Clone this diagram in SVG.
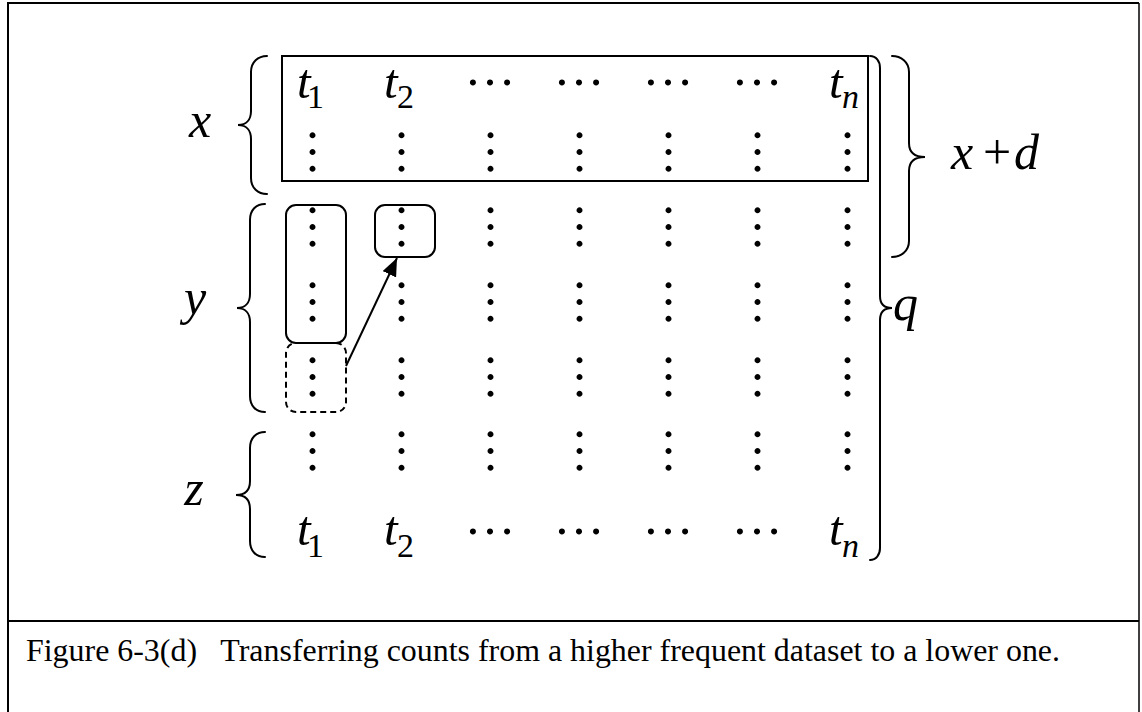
<svg xmlns="http://www.w3.org/2000/svg" width="1142" height="712" viewBox="0 0 1142 712">
  <style>
    .frame { fill: none; stroke: #000; stroke-width: 2; }
    .box { fill: none; stroke: #000; stroke-width: 2; }
    .brace { fill: none; stroke: #000; stroke-width: 2; stroke-linecap: round; }
    .dash { fill: none; stroke: #000; stroke-width: 2; stroke-dasharray: 6 4; }
    .var { font-family: "Liberation Serif", "Times New Roman", serif; font-style: italic; font-size: 50px; fill: #000; }
    .t { font-size: 49px; }
    .sub { font-size: 34px; }
    .up { font-style: normal; }
    .dots { font-family: "Liberation Serif", "Times New Roman", serif; font-size: 50px; text-anchor: middle; fill: #000; }
    .hdots { font-size: 51px; }
    .caption { font-family: "Liberation Serif", "Times New Roman", serif; font-size: 32px; fill: #000; white-space: pre; }
  </style>
  <defs>
    <!-- vertical ellipsis: a rotated horizontal ellipsis, centred on the middle dot -->
    <text id="vdots" class="dots" x="0" y="2" transform="rotate(90)">…</text>
    <marker id="head" viewBox="0 0 10 10" refX="10" refY="5" markerUnits="userSpaceOnUse" markerWidth="18" markerHeight="15" preserveAspectRatio="none" orient="auto">
      <path d="M0,0 L10,5 L0,10 z" fill="#000"/>
    </marker>
  </defs>

  <rect width="1142" height="712" fill="#fff"/>

  <!-- outer frame and caption divider -->
  <g id="frame">
    <path class="frame" d="M8,712 V3 H1139"/>
    <path class="frame" d="M1139,3 V712" style="stroke-width:1.5"/>
    <path class="frame" d="M8,621 H1139"/>
  </g>

  <!-- row labels with their braces -->
  <g id="label-x">
    <text class="var" x="200" y="137" text-anchor="middle">x</text>
    <path class="brace" d="M267,56 C258,56 251,62 251,72 L251,111 C251,120 246,125 238,125 C246,125 251,130 251,139 L251,178 C251,188 258,194 267,194"/>
  </g>
  <g id="label-y">
    <text class="var" x="195" y="314" text-anchor="middle">y</text>
    <path class="brace" d="M265,204 C256,204 250,210 250,220 L250,294 C250,303 245,308 237,308 C245,308 250,313 250,322 L250,396 C250,406 256,412 265,412"/>
  </g>
  <g id="label-z">
    <text class="var" x="194" y="505" text-anchor="middle">z</text>
    <path class="brace" d="M265,432 C256,432 250,438 250,448 L250,481 C250,490 245,495 236,495 C245,495 250,500 250,509 L250,541 C250,551 256,557 265,557"/>
  </g>
  <g id="label-xd">
    <path class="brace" d="M892,56 C901,56 909,62 909,72 L909,143 C909,152 914,157 925,157 C914,157 909,162 909,171 L909,241 C909,251 901,257 892,257"/>
    <text class="var" y="169"><tspan x="951">x</tspan><tspan class="up" x="983">+</tspan><tspan x="1014">d</tspan></text>
  </g>
  <g id="label-q">
    <path class="brace" d="M870,56 C876,56 880,61 880,68 L880,296 C880,304 884,308 892,308 C884,308 880,312 880,320 L880,548 C880,555 876,560 870,560"/>
    <text class="var" x="893" y="320">q</text>
  </g>

  <!-- first transaction row, framed -->
  <g id="row-top">
    <rect class="box" x="282" y="56" width="586" height="125"/>
    <text class="var t" x="297" y="98">t<tspan class="sub up" x="307" y="108">1</tspan></text>
    <text class="var t" x="384" y="98">t<tspan class="sub up" x="397" y="108">2</tspan></text>
    <text class="dots hdots" x="490" y="85">…</text>
    <text class="dots hdots" x="579" y="85">…</text>
    <text class="dots hdots" x="668" y="85">…</text>
    <text class="dots hdots" x="757" y="85">…</text>
    <text class="var t" x="829" y="98">t<tspan class="sub" x="842" y="108">n</tspan></text>
  </g>

  <!-- columns of vertical ellipses -->
  <g id="grid">
    <use href="#vdots" x="312" y="152"/><use href="#vdots" x="401" y="152"/><use href="#vdots" x="490" y="152"/><use href="#vdots" x="579" y="152"/><use href="#vdots" x="668" y="152"/><use href="#vdots" x="757" y="152"/><use href="#vdots" x="847" y="152"/>
    <use href="#vdots" x="312" y="227"/><use href="#vdots" x="401" y="227"/><use href="#vdots" x="490" y="227"/><use href="#vdots" x="579" y="227"/><use href="#vdots" x="668" y="227"/><use href="#vdots" x="757" y="227"/><use href="#vdots" x="847" y="227"/>
    <use href="#vdots" x="312" y="302"/><use href="#vdots" x="401" y="302"/><use href="#vdots" x="490" y="302"/><use href="#vdots" x="579" y="302"/><use href="#vdots" x="668" y="302"/><use href="#vdots" x="757" y="302"/><use href="#vdots" x="847" y="302"/>
    <use href="#vdots" x="312" y="377"/><use href="#vdots" x="401" y="377"/><use href="#vdots" x="490" y="377"/><use href="#vdots" x="579" y="377"/><use href="#vdots" x="668" y="377"/><use href="#vdots" x="757" y="377"/><use href="#vdots" x="847" y="377"/>
    <use href="#vdots" x="312" y="451"/><use href="#vdots" x="401" y="451"/><use href="#vdots" x="490" y="451"/><use href="#vdots" x="579" y="451"/><use href="#vdots" x="668" y="451"/><use href="#vdots" x="757" y="451"/><use href="#vdots" x="847" y="451"/>
  </g>

  <!-- highlighted count cells -->
  <g id="cell-source">
    <rect class="box" x="286" y="205" width="60" height="138" rx="10"/>
  </g>
  <g id="cell-target">
    <rect class="box" x="375" y="205" width="60" height="52" rx="10"/>
  </g>
  <g id="cell-moved">
    <rect class="dash" x="286" y="343" width="60" height="69" rx="10"/>
  </g>

  <!-- last transaction row -->
  <g id="row-bottom">
    <text class="var t" x="297" y="545">t<tspan class="sub up" x="307" y="557">1</tspan></text>
    <text class="var t" x="384" y="545">t<tspan class="sub up" x="397" y="557">2</tspan></text>
    <text class="dots hdots" x="490" y="534">…</text>
    <text class="dots hdots" x="579" y="534">…</text>
    <text class="dots hdots" x="668" y="534">…</text>
    <text class="dots hdots" x="757" y="534">…</text>
    <text class="var t" x="829" y="545">t<tspan class="sub" x="842" y="557">n</tspan></text>
  </g>

  <!-- connectors -->
  <g id="connectors">
    <line x1="346" y1="366" x2="397" y2="258" stroke="#000" stroke-width="2" marker-end="url(#head)"/>
  </g>

  <g id="caption">
    <text class="caption" x="26" y="661" textLength="1034" lengthAdjust="spacingAndGlyphs">Figure 6-3(d)   Transferring counts from a higher frequent dataset to a lower one.</text>
  </g>
</svg>
